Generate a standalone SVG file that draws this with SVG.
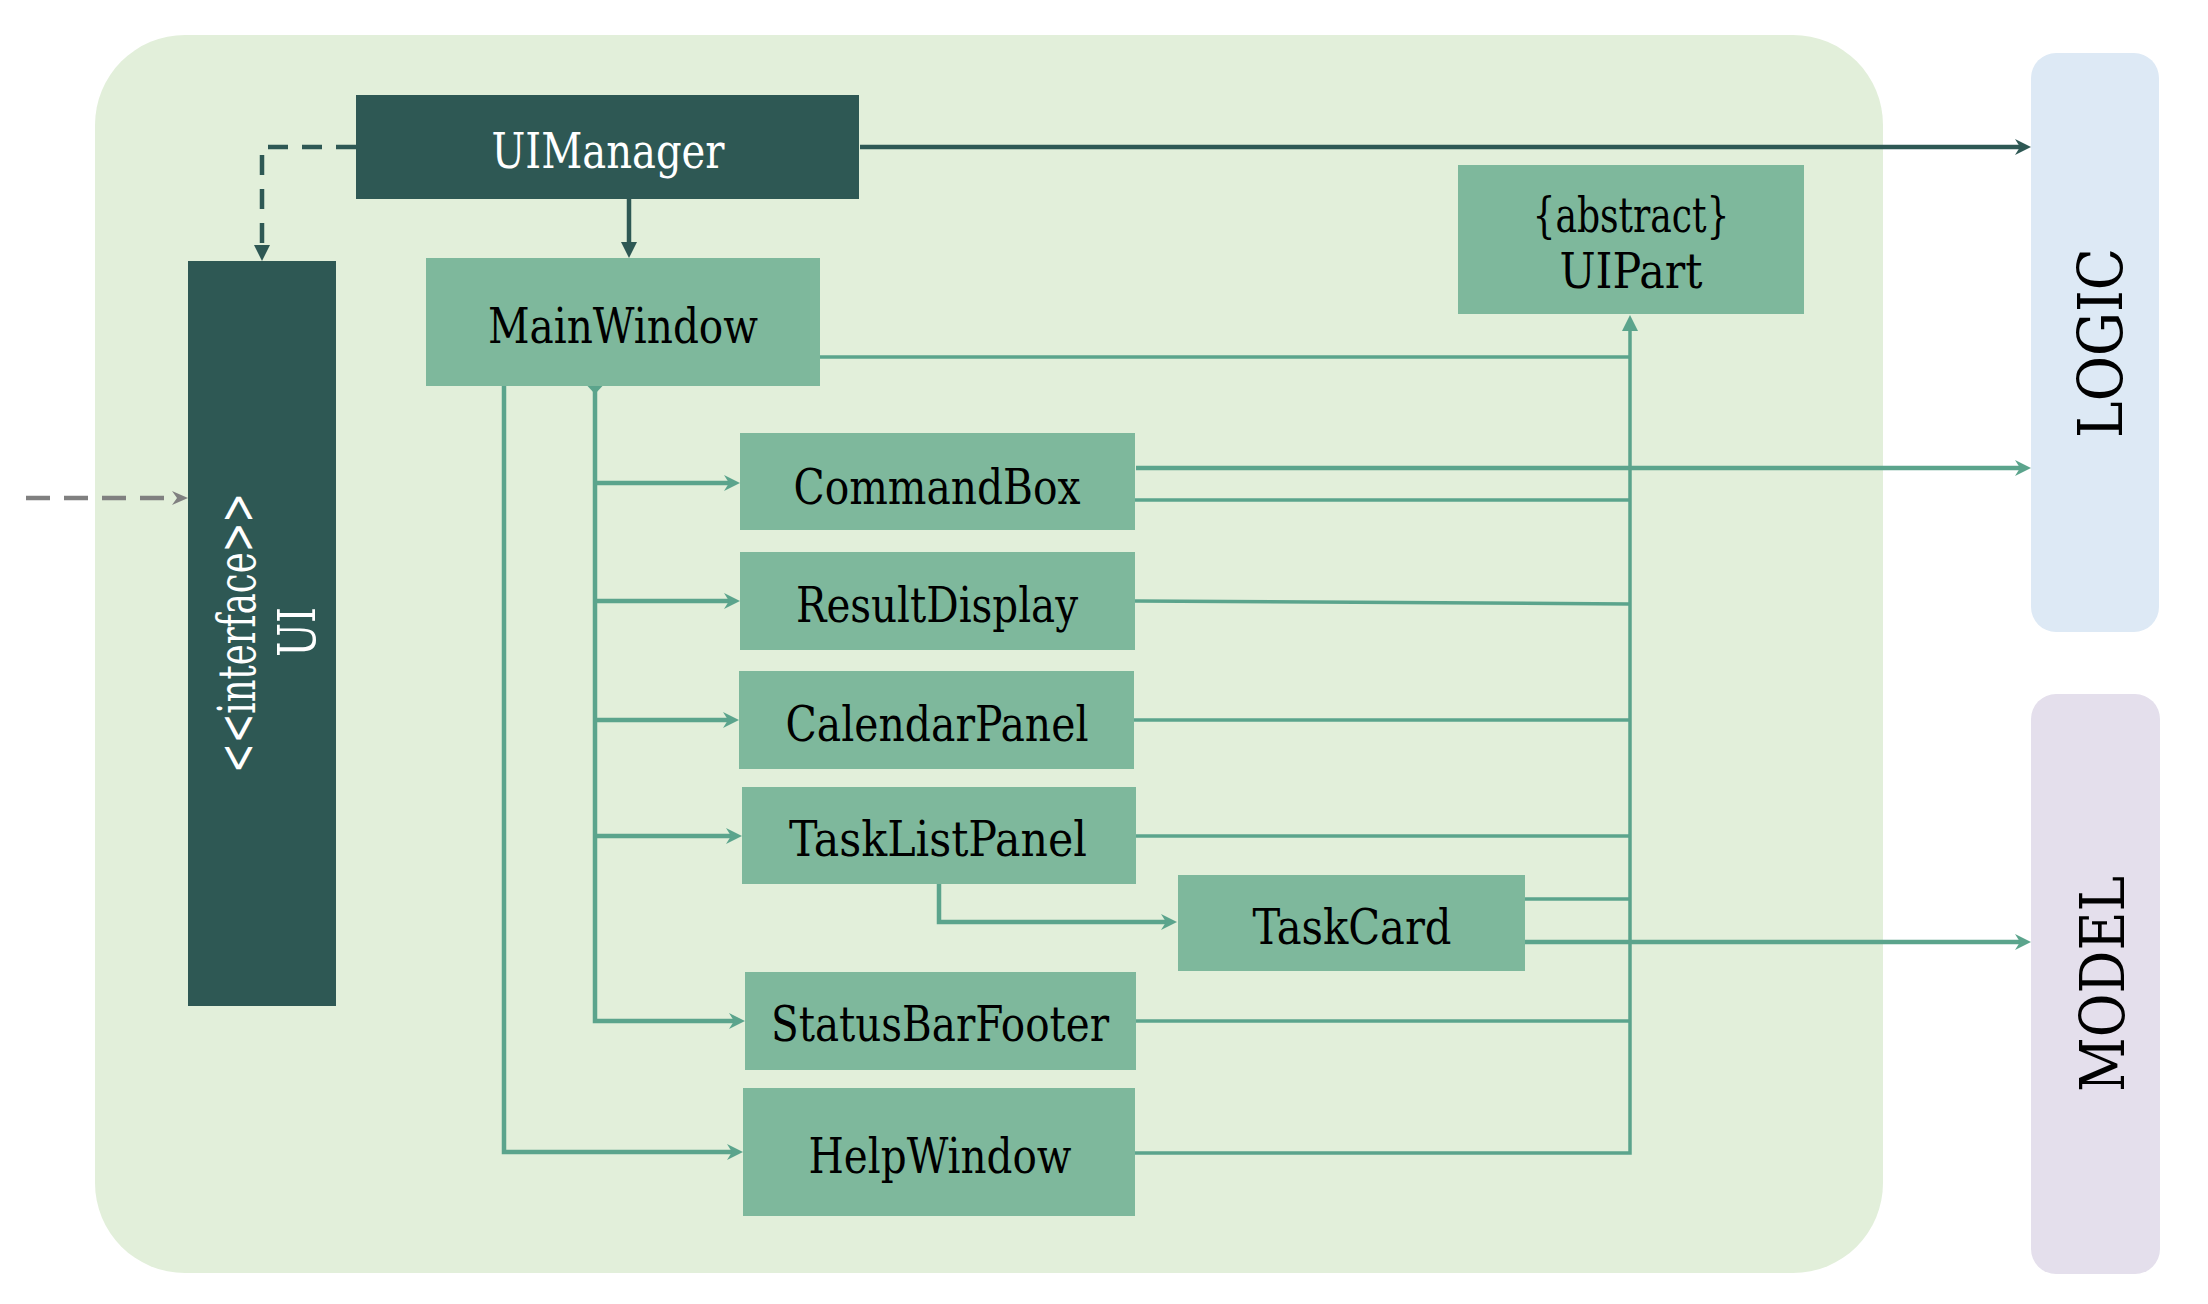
<svg xmlns="http://www.w3.org/2000/svg" width="2208" height="1304" viewBox="0 0 2208 1304">
  <style>
    .lbl { font-family: "DejaVu Serif", "Liberation Serif", serif; font-stretch: condensed; font-size: 48px; fill: #000; text-anchor: middle; }
    .wht { fill: #ffffff; }
    .big { font-size: 62px; }
    .ifc { font-size: 52px; }
    .node { fill: #7EB89C; }
    .dark { fill: #2E5854; }
    .ln { fill: none; stroke: #5BA48C; stroke-width: 3.5; }
    .lnb { fill: none; stroke: #5BA48C; stroke-width: 4.5; }
    .dk { fill: none; stroke: #2E5854; stroke-width: 4.5; }
  </style>
  <defs>
    <marker id="cg" markerUnits="userSpaceOnUse" markerWidth="16" markerHeight="16" viewBox="0 0 16 16" refX="6" refY="8" orient="auto">
      <path d="M0,0 L16,8 L0,16 L5,8 Z" fill="#5BA48C"/>
    </marker>
    <marker id="cd" markerUnits="userSpaceOnUse" markerWidth="16" markerHeight="16" viewBox="0 0 16 16" refX="6" refY="8" orient="auto">
      <path d="M0,0 L16,8 L0,16 L5,8 Z" fill="#2E5854"/>
    </marker>
    <marker id="cgr" markerUnits="userSpaceOnUse" markerWidth="16" markerHeight="16" viewBox="0 0 16 16" refX="6" refY="8" orient="auto">
      <path d="M0,1 L16,8 L0,15 L5,8 Z" fill="#808080"/>
    </marker>
    <marker id="bg" markerUnits="userSpaceOnUse" markerWidth="16" markerHeight="16" viewBox="0 0 16 16" refX="6" refY="8" orient="auto">
      <path d="M0,0 L16,8 L0,16 Z" fill="#5BA48C"/>
    </marker>
    <marker id="bd" markerUnits="userSpaceOnUse" markerWidth="16" markerHeight="16" viewBox="0 0 16 16" refX="6" refY="8" orient="auto">
      <path d="M0,0 L16,8 L0,16 Z" fill="#2E5854"/>
    </marker>
  </defs>

  <g id="container">
    <rect x="95" y="35" width="1788" height="1238" rx="90" ry="90" fill="#E2EFDA"/>
  </g>
  <g id="logic">
    <rect x="2031" y="53" width="128" height="579" rx="25" ry="25" fill="#DDE9F5"/>
    <text class="lbl big" textLength="190" lengthAdjust="spacingAndGlyphs" transform="translate(2122,343) rotate(-90)">LOGIC</text>
  </g>
  <g id="model">
    <rect x="2031" y="694" width="129" height="580" rx="25" ry="25" fill="#E4DFEC"/>
    <text class="lbl big" textLength="216" lengthAdjust="spacingAndGlyphs" transform="translate(2124,984) rotate(-90)">MODEL</text>
  </g>

  <g id="connectors">
    <path class="dk" d="M356,147 H262 V251" stroke-dasharray="20 14" marker-end="url(#bd)"/>
    <path class="dk" d="M860,147 H2021" marker-end="url(#cd)"/>
    <path class="dk" d="M629,199 V248" marker-end="url(#bd)"/>
    <path d="M26,498 H178" fill="none" stroke="#808080" stroke-width="4.5" stroke-dasharray="24 14" marker-end="url(#cgr)"/>
    <path class="lnb" d="M595,390 V1021 H735" marker-end="url(#cg)"/>
    <path class="lnb" d="M595,483 H730" marker-end="url(#cg)"/>
    <path class="lnb" d="M595,601 H730" marker-end="url(#cg)"/>
    <path class="lnb" d="M595,720 H729" marker-end="url(#cg)"/>
    <path class="lnb" d="M595,836 H732" marker-end="url(#cg)"/>
    <path d="M595,377 L603,385.5 L595,394 L587,385.5 Z" fill="#5BA48C"/>
    <path class="lnb" d="M504,386 V1152 H733" marker-end="url(#cg)"/>
    <path class="lnb" d="M939,884 V922 H1167" marker-end="url(#cg)"/>
    <path class="ln" d="M820,357 H1630"/>
    <path class="ln" d="M1135,500 H1630"/>
    <path class="ln" d="M1135,601 L1630,604"/>
    <path class="ln" d="M1134,720 H1630"/>
    <path class="ln" d="M1136,836 H1630"/>
    <path class="ln" d="M1525,899 H1630"/>
    <path class="ln" d="M1136,1021 H1630"/>
    <path class="ln" d="M1135,1153 H1630 V325" marker-end="url(#bg)"/>
    <path class="lnb" d="M1136,468 H2021" marker-end="url(#cg)"/>
    <path class="lnb" d="M1525,942 H2021" marker-end="url(#cg)"/>
  </g>

  <g id="uimanager">
    <rect class="dark" x="356" y="95" width="503" height="104"/>
    <text class="lbl wht" x="608" y="168" textLength="233" lengthAdjust="spacingAndGlyphs">UIManager</text>
  </g>
  <g id="ui">
    <rect class="dark" x="188" y="261" width="148" height="745"/>
    <text class="lbl wht ifc" textLength="280" lengthAdjust="spacingAndGlyphs" transform="translate(255,633) rotate(-90)">&lt;&lt;interface&gt;&gt;</text>
    <text class="lbl wht ifc" textLength="50" lengthAdjust="spacingAndGlyphs" transform="translate(315,632) rotate(-90)">UI</text>
  </g>
  <g id="mainwindow">
    <rect class="node" x="426" y="258" width="394" height="128"/>
    <text class="lbl" x="623" y="343" textLength="270" lengthAdjust="spacingAndGlyphs">MainWindow</text>
  </g>
  <g id="uipart">
    <rect class="node" x="1458" y="165" width="346" height="149"/>
    <text class="lbl" x="1631" y="232" textLength="197" lengthAdjust="spacingAndGlyphs">{abstract}</text>
    <text class="lbl" x="1631" y="288" textLength="143" lengthAdjust="spacingAndGlyphs">UIPart</text>
  </g>
  <g id="commandbox">
    <rect class="node" x="740" y="433" width="395" height="97"/>
    <text class="lbl" x="937" y="504" textLength="287" lengthAdjust="spacingAndGlyphs">CommandBox</text>
  </g>
  <g id="resultdisplay">
    <rect class="node" x="740" y="552" width="395" height="98"/>
    <text class="lbl" x="937" y="622" textLength="282" lengthAdjust="spacingAndGlyphs">ResultDisplay</text>
  </g>
  <g id="calendarpanel">
    <rect class="node" x="739" y="671" width="395" height="98"/>
    <text class="lbl" x="937" y="741" textLength="303" lengthAdjust="spacingAndGlyphs">CalendarPanel</text>
  </g>
  <g id="tasklistpanel">
    <rect class="node" x="742" y="787" width="394" height="97"/>
    <text class="lbl" x="938" y="856" textLength="298" lengthAdjust="spacingAndGlyphs">TaskListPanel</text>
  </g>
  <g id="taskcard">
    <rect class="node" x="1178" y="875" width="347" height="96"/>
    <text class="lbl" x="1352" y="944" textLength="199" lengthAdjust="spacingAndGlyphs">TaskCard</text>
  </g>
  <g id="statusbarfooter">
    <rect class="node" x="745" y="972" width="391" height="98"/>
    <text class="lbl" x="940" y="1041" textLength="338" lengthAdjust="spacingAndGlyphs">StatusBarFooter</text>
  </g>
  <g id="helpwindow">
    <rect class="node" x="743" y="1088" width="392" height="128"/>
    <text class="lbl" x="940" y="1173" textLength="263" lengthAdjust="spacingAndGlyphs">HelpWindow</text>
  </g>
</svg>
